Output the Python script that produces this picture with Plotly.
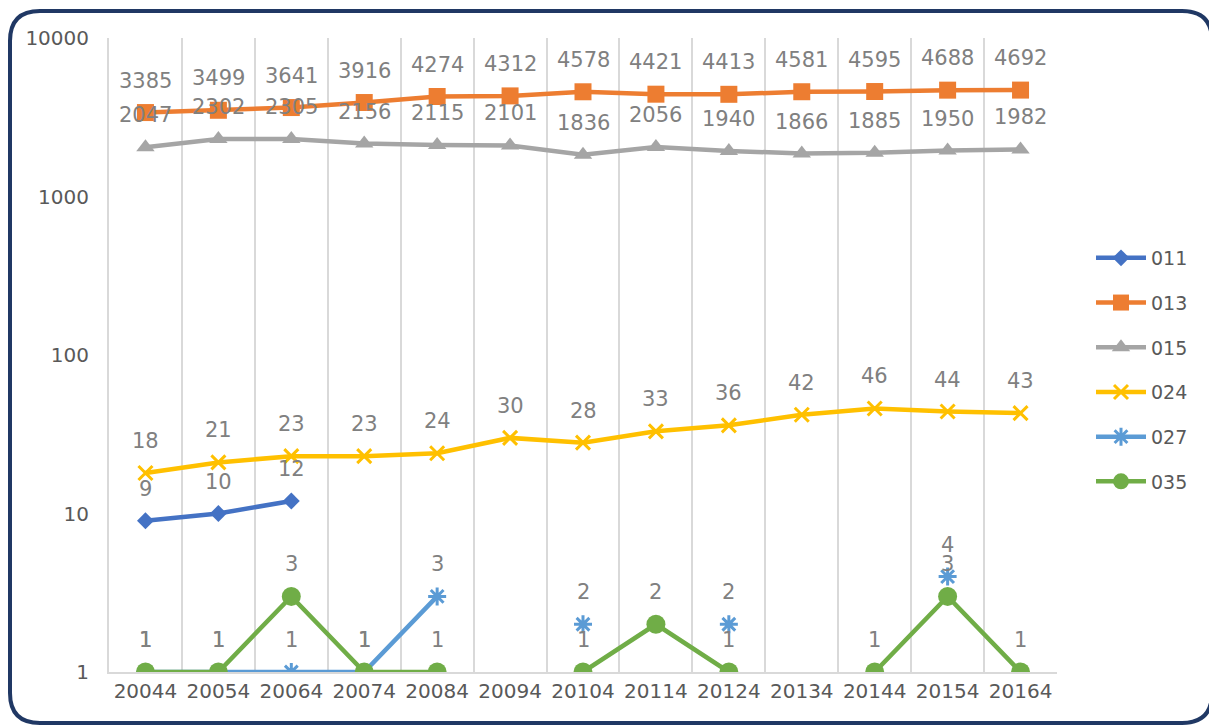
import plotly.graph_objects as go
import math

categories = ["20044", "20054", "20064", "20074", "20084", "20094", "20104",
              "20114", "20124", "20134", "20144", "20154", "20164"]
s011 = [9, 10, 12, None, None, None, None, None, None, None, None, None, None]
s013 = [3385, 3499, 3641, 3916, 4274, 4312, 4578, 4421, 4413, 4581, 4595, 4688, 4692]
s015 = [2047, 2302, 2305, 2156, 2115, 2101, 1836, 2056, 1940, 1866, 1885, 1950, 1982]
s024 = [18, 21, 23, 23, 24, 30, 28, 33, 36, 42, 46, 44, 43]
s027 = [1, 1, 1, 1, 3, None, 2, None, 2, None, None, 4, None]
s035 = [1, 1, 3, 1, 1, None, 1, 2, 1, None, 1, 3, 1]
y_ticks = [1, 10, 100, 1000, 10000]

series = [
    ("011", s011, "#4472C4", dict(symbol="diamond", size=13)),
    ("013", s013, "#ED7D31", dict(symbol="square", size=17)),
    ("015", s015, "#A5A5A5", dict(symbol="triangle-up", size=16)),
    ("024", s024, "#FFC000", dict(symbol="x-thin-open", size=14, line=dict(width=3, color="#FFC000"))),
    ("027", s027, "#5B9BD5", dict(symbol="asterisk-open", size=15, line=dict(width=3, color="#5B9BD5"))),
    ("035", s035, "#70AD47", dict(symbol="circle", size=19)),
]

FONT = "DejaVu Sans"
fig = go.Figure()
annotations = []
for name, vals, color, mk in series:
    mk = dict(mk)
    mk["color"] = color
    fig.add_trace(go.Scatter(
        x=categories, y=vals, name=name, mode="lines+markers",
        line=dict(color=color, width=4.5), marker=mk,
        connectgaps=False, legendgroup=name,
    ))
    for i, v in enumerate(vals):
        if v is None:
            continue
        annotations.append(dict(
            x=i, y=math.log10(v), xref="x", yref="y", text=str(v),
            showarrow=False, yshift=32, yanchor="middle", xanchor="center",
            font=dict(family=FONT, size=21, color="#808080"),
        ))

# page body has an 8px margin; figure coordinates = screen coordinates - 8
W, H = 1209, 719
L, R, T, B = 101, 1049, 30, 664

def px(x):
    return (x - L) / (R - L)

def py(y):
    return (B - y) / (B - T)

x0, x1, y0, y1, r = 2, 1204, 3, 715, 30
path = (
    f"M {px(x0 + r)} {py(y0)} L {px(x1 - r)} {py(y0)} "
    f"Q {px(x1)} {py(y0)} {px(x1)} {py(y0 + r)} "
    f"L {px(x1)} {py(y1 - r)} Q {px(x1)} {py(y1)} {px(x1 - r)} {py(y1)} "
    f"L {px(x0 + r)} {py(y1)} Q {px(x0)} {py(y1)} {px(x0)} {py(y1 - r)} "
    f"L {px(x0)} {py(y0 + r)} Q {px(x0)} {py(y0)} {px(x0 + r)} {py(y0)} Z"
)

fig.update_layout(
    width=W, height=H,
    margin=dict(l=L, r=W - R, t=T, b=H - B),
    paper_bgcolor="white", plot_bgcolor="white",
    font=dict(family=FONT, color="#595959"),
    annotations=annotations,
    shapes=[dict(type="path", path=path, xref="paper", yref="paper",
                 line=dict(color="#203864", width=4), layer="above")],
    legend=dict(x=px(1083), y=py(231), xanchor="left", yanchor="top",
                font=dict(family=FONT, size=19, color="#595959"),
                tracegroupgap=17, itemwidth=50, bgcolor="rgba(0,0,0,0)"),
    showlegend=True,
)
fig.update_xaxes(
    type="category", range=[-0.5, 12.5], tickson="boundaries",
    showgrid=True, gridcolor="#D9D9D9", gridwidth=2,
    showline=True, linecolor="#D9D9D9", linewidth=2,
    ticks="", tickangle=0, automargin=False,
    tickfont=dict(family=FONT, size=20, color="#595959"),
    zeroline=False,
)
fig.update_yaxes(
    type="log", range=[0, 4], tickvals=y_ticks, ticktext=[str(v) for v in y_ticks],
    showgrid=False, showline=True, linecolor="#D9D9D9", linewidth=2,
    ticks="", automargin=False, ticklabelstandoff=14,
    tickfont=dict(family=FONT, size=20, color="#595959"),
    zeroline=False,
)

fig.write_html("out.html")
